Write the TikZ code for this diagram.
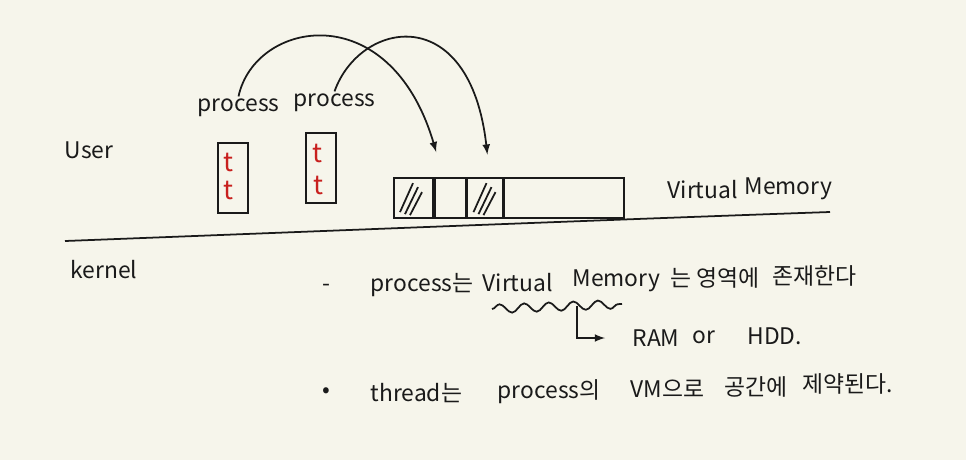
\documentclass[tikz,border=0pt]{standalone}
\usepackage{fontspec}
\setmainfont{Noto Sans CJK KR}
\usetikzlibrary{decorations.pathmorphing}
\definecolor{paper}{HTML}{F6F5EB}
\definecolor{ink}{HTML}{1A1A1A}
\definecolor{thr}{HTML}{C8201E}
\tikzset{
  hand/.style={font=\fontsize{13}{16}\selectfont, text=ink, inner sep=1pt, anchor=west},
  procbox/.style={draw=ink, line width=1.1pt, minimum width=0.6cm, minimum height=1.4cm, inner sep=0pt},
  memseg/.style={draw=ink, line width=1pt, minimum height=0.8cm, inner sep=0pt, anchor=west},
  tmark/.style={text=thr, font=\fontsize{15}{18}\selectfont, inner sep=0pt},
}
\begin{document}
\begin{tikzpicture}[x=0.02cm, y=-0.02cm, >=latex, line width=1pt, draw=ink]
    \fill[paper] (0,0) rectangle (966,460);
    \useasboundingbox (0,0) rectangle (966,460);

    % user / kernel
    \node[hand] (user) at (62,150) {User};
    \node[hand] (kern) at (68,270) {kernel};
    \draw[ink] (65,241) .. controls (300,232) and (600,220) .. (830,212);

    % processes
    \node[hand] (p1) at (195,108) {process};
    \node[hand] (p2) at (291,103) {process};
    \node[procbox] (b1) at (233,178) {};
    \node[procbox] (b2) at (321,168) {};
    \node[tmark] (t11) at (228,162) {t};
    \node[tmark] (t12) at (228,190) {t};
    \node[tmark] (t21) at (317,153) {t};
    \node[tmark] (t22) at (318,185) {t};

    % virtual memory bar
    \node[memseg, minimum width=0.78cm] (m1) at (393,198) {};
    \node[memseg, minimum width=0.62cm] (m2) at (m1.east) {};
    \node[memseg, minimum width=0.70cm] (m3) at (m2.east) {};
    \node[memseg, minimum width=2.40cm] (m4) at (m3.east) {};
    \foreach \s in {m1,m3}{
        \draw[ink] ([xshift=0.14cm,yshift=-0.7cm]\s.north west) -- ([xshift=0.40cm,yshift=-0.12cm]\s.north west);
        \draw[ink] ([xshift=0.24cm,yshift=-0.74cm]\s.north west) -- ([xshift=0.50cm,yshift=-0.2cm]\s.north west);
        \draw[ink] ([xshift=0.34cm,yshift=-0.76cm]\s.north west) -- ([xshift=0.58cm,yshift=-0.3cm]\s.north west);
    }
    \node[hand] (vm1) at (665,190) {Virtual};
    \node[hand] (vm2) at (742,189) {Memory};

    % mapping arrows
    \draw[->] (p1.north) .. controls (255,20) and (390,-5) .. ([xshift=0.05cm,yshift=0.5cm]m1.north east);
    \draw[->] (p2.north) .. controls (360,20) and (470,0) .. ([xshift=0.05cm,yshift=0.45cm]m3.north);

    % notes
    \node[hand] (d1) at (320,288) {-};
    \node[hand] (n11) at (368,285) {process는};
    \node[hand] (n12) at (480,283) {Virtual};
    \node[hand] (n13) at (570,281) {Memory};
    \node[hand] (n14) at (668,278) {는 영역에};
    \node[hand] (n15) at (770,276) {존재한다};
    \coordinate (w1) at (492,309);
    \coordinate (w2) at (622,304);
    \draw[ink, decorate, decoration={snake, amplitude=2.5pt, segment length=14pt}] (w1) -- (w2);
    \coordinate (wm) at (577,306);
    \node[hand] (ram) at (630,338) {RAM};
    \node[hand] (or) at (690,337) {or};
    \node[hand] (hdd) at (745,336) {HDD.};
    \draw[->] (wm) |- ([xshift=-0.5cm]ram.west);

    \node[hand] (d2) at (320,393) {•};
    \node[hand] (n21) at (368,393) {thread는};
    \node[hand] (n22) at (495,392) {process의};
    \node[hand] (n23) at (628,389) {VM으로};
    \node[hand] (n24) at (722,387) {공간에};
    \node[hand] (n25) at (800,384) {제약된다.};
\end{tikzpicture}
\end{document}
